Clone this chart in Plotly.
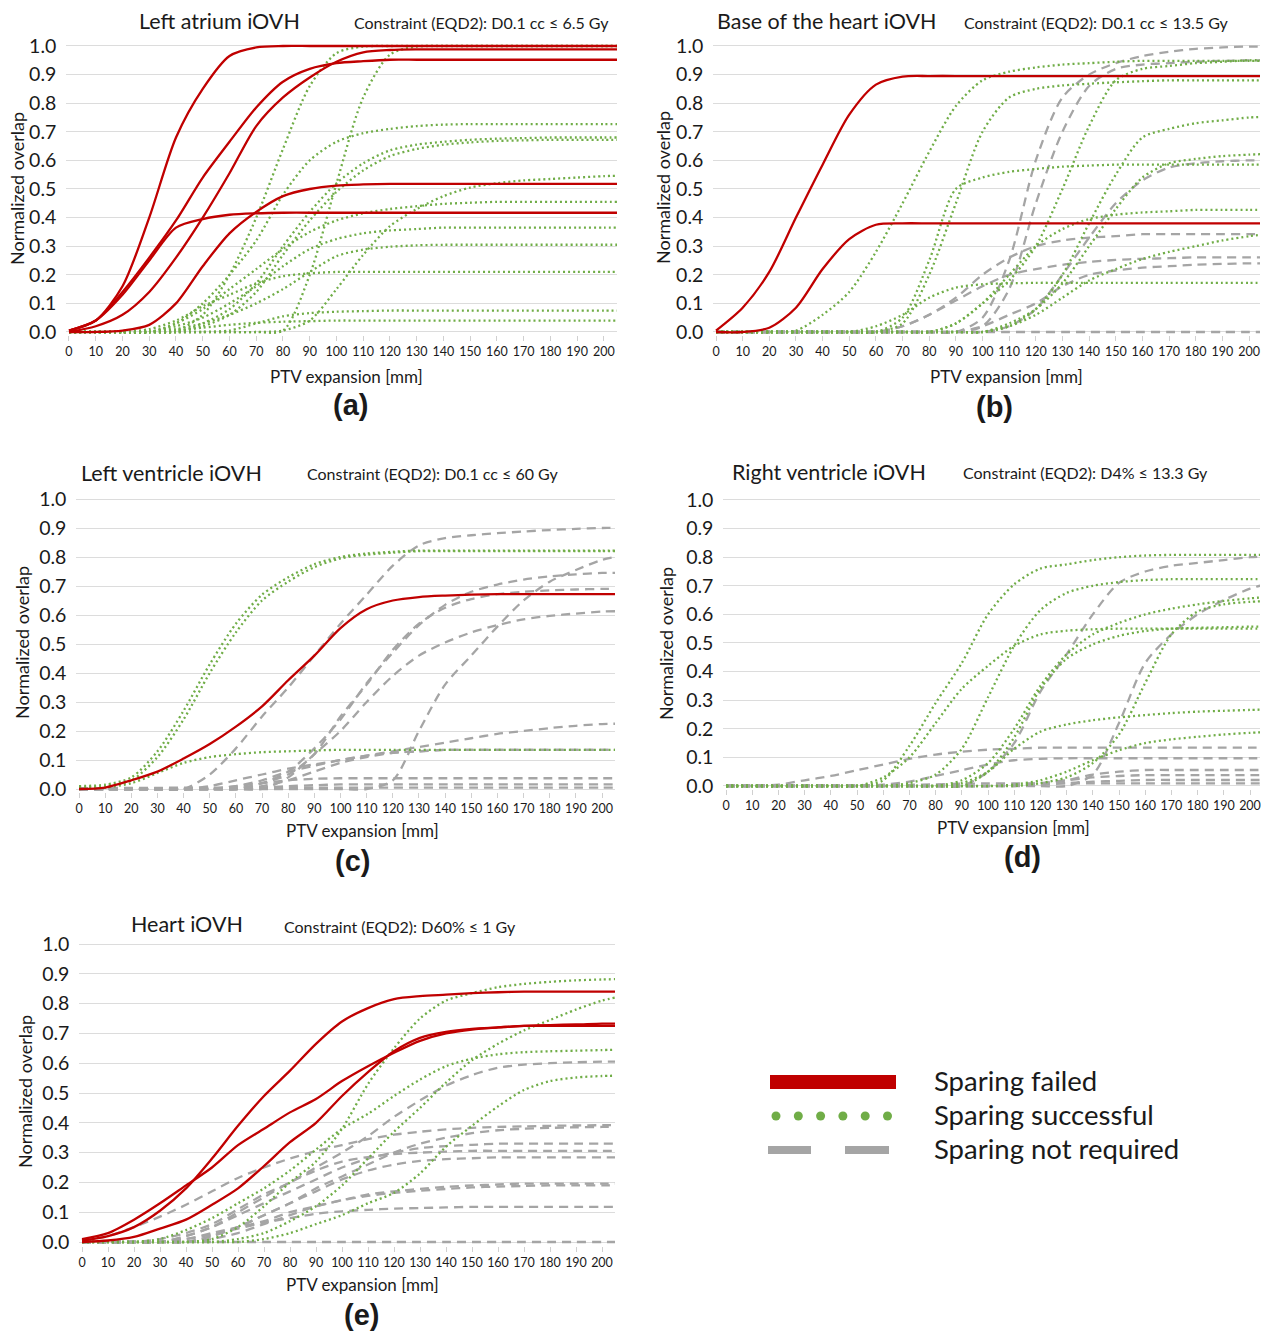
import plotly.graph_objects as go

W, H = 1261, 1332
FONT = "Lato, 'Open Sans', sans-serif"
RED, GREEN, GRAY = "#C00000", "#70AD47", "#A5A5A5"
TXT = "#1a1a1a"

# x sampling (mm) shared by every curve
X = [0, 10, 20, 30, 40, 50, 60, 70, 80, 90, 100, 110, 120, 130, 140, 150, 160, 170, 180, 190, 200, 205]
X_TICKS = list(range(0, 201, 10))
Y_TICKS = [0.0, 0.1, 0.2, 0.3, 0.4, 0.5, 0.6, 0.7, 0.8, 0.9, 1.0]

# ---------------- (a) Left atrium ----------------
a_red1 = [0.005,0.04,0.16,0.40,0.68,0.85,0.965,0.995,1.0,1.0,1.0,1.0,1.0,1.0,1.0,1.0,1.0,1.0,1.0,1.0,1.0,1.0]
a_red2 = [0.005,0.04,0.14,0.26,0.39,0.54,0.665,0.785,0.875,0.92,0.94,0.947,0.952,0.952,0.952,0.952,0.952,0.952,0.952,0.952,0.952,0.952]
a_red3 = [0.0,0.02,0.06,0.14,0.26,0.40,0.555,0.72,0.82,0.89,0.945,0.978,0.986,0.988,0.988,0.988,0.988,0.988,0.988,0.988,0.988,0.988]
a_red4 = [0.005,0.04,0.13,0.25,0.365,0.395,0.41,0.415,0.417,0.417,0.417,0.417,0.417,0.417,0.417,0.417,0.417,0.417,0.417,0.417,0.417,0.417]
a_red5 = [0.0,0.0,0.005,0.025,0.10,0.23,0.345,0.42,0.475,0.50,0.512,0.516,0.518,0.518,0.518,0.518,0.518,0.518,0.518,0.518,0.518,0.518]
a_grn1 = [0,0,0,0,0.005,0.06,0.2,0.4,0.64,0.86,0.975,0.998,1.0,1.0,1.0,1.0,1.0,1.0,1.0,1.0,1.0,1.0]
a_grn2 = [0,0,0,0,0,0,0,0,0.005,0.2,0.52,0.82,0.97,0.998,1.0,1.0,1.0,1.0,1.0,1.0,1.0,1.0]
a_grn3 = [0,0,0,0,0.03,0.1,0.2,0.32,0.48,0.6,0.665,0.695,0.71,0.72,0.725,0.727,0.727,0.727,0.727,0.727,0.727,0.727]
a_grn4 = [0,0,0,0,0,0.03,0.08,0.17,0.3,0.42,0.52,0.59,0.635,0.655,0.665,0.672,0.676,0.678,0.68,0.68,0.68,0.68]
a_grn5 = [0,0,0,0,0,0.02,0.06,0.14,0.27,0.39,0.49,0.565,0.615,0.64,0.655,0.663,0.668,0.67,0.672,0.672,0.672,0.672]
a_grn6 = [0,0,0,0,0,0,0,0,0.005,0.04,0.15,0.27,0.37,0.43,0.475,0.505,0.52,0.53,0.535,0.54,0.545,0.546]
a_grn7 = [0,0,0,0,0.03,0.08,0.15,0.22,0.29,0.35,0.39,0.415,0.43,0.44,0.448,0.452,0.455,0.455,0.455,0.455,0.455,0.455]
a_grn8 = [0,0,0,0,0.02,0.05,0.1,0.16,0.23,0.29,0.325,0.345,0.355,0.36,0.365,0.365,0.365,0.365,0.365,0.365,0.365,0.365]
a_grn9 = [0,0,0,0,0.01,0.03,0.06,0.1,0.15,0.21,0.265,0.288,0.298,0.303,0.305,0.305,0.305,0.305,0.305,0.305,0.305,0.305]
a_grn10 = [0,0,0,0.01,0.04,0.09,0.13,0.17,0.195,0.205,0.21,0.21,0.21,0.21,0.21,0.21,0.21,0.21,0.21,0.21,0.21,0.21]
a_grn11 = [0,0,0,0,0,0,0.005,0.03,0.055,0.066,0.071,0.073,0.075,0.075,0.075,0.075,0.075,0.075,0.075,0.075,0.075,0.075]
a_grn12 = [0,0,0,0,0.005,0.015,0.025,0.032,0.036,0.038,0.04,0.04,0.04,0.04,0.04,0.04,0.04,0.04,0.04,0.04,0.04,0.04]

# ---------------- (b) Base of the heart ----------------
b_red1 = [0.005,0.085,0.21,0.40,0.585,0.76,0.865,0.893,0.895,0.895,0.895,0.895,0.895,0.895,0.895,0.895,0.895,0.895,0.895,0.895,0.895,0.895]
b_red2 = [0.0,0.0,0.015,0.085,0.22,0.325,0.375,0.38,0.38,0.38,0.38,0.38,0.38,0.38,0.38,0.38,0.38,0.38,0.38,0.38,0.38,0.38]
b_grn1 = [0,0,0,0.005,0.06,0.14,0.28,0.45,0.63,0.79,0.88,0.91,0.925,0.935,0.94,0.945,0.948,0.948,0.948,0.948,0.948,0.948]
b_grn2 = [0,0,0,0,0,0,0,0.03,0.2,0.45,0.7,0.82,0.85,0.862,0.868,0.873,0.877,0.88,0.88,0.88,0.88,0.88]
b_grn3 = [0,0,0,0,0,0,0,0.05,0.25,0.5,0.54,0.56,0.57,0.578,0.582,0.585,0.585,0.585,0.585,0.585,0.585,0.585]
b_grn4 = [0,0,0,0,0,0,0,0,0,0.03,0.1,0.18,0.3,0.5,0.72,0.88,0.92,0.93,0.94,0.945,0.95,0.95]
b_grn5 = [0,0,0,0,0,0,0,0,0,0,0,0.02,0.08,0.2,0.38,0.55,0.68,0.71,0.73,0.74,0.75,0.752]
b_grn6 = [0,0,0,0,0,0,0,0,0,0,0,0.03,0.08,0.17,0.3,0.43,0.54,0.59,0.605,0.615,0.62,0.622]
b_grn7 = [0,0,0,0,0,0,0,0,0,0.03,0.1,0.2,0.3,0.36,0.395,0.41,0.418,0.422,0.427,0.427,0.427,0.427]
b_grn8 = [0,0,0,0,0,0,0,0,0,0,0,0.02,0.06,0.12,0.18,0.22,0.255,0.28,0.3,0.32,0.335,0.34]
b_grn9 = [0,0,0,0,0,0,0.02,0.06,0.12,0.155,0.167,0.17,0.172,0.172,0.172,0.172,0.172,0.172,0.172,0.172,0.172,0.172]
b_gry1 = [0,0,0,0,0,0,0,0,0,0,0.05,0.25,0.6,0.82,0.9,0.94,0.965,0.98,0.99,0.995,0.998,0.998]
b_gry2 = [0,0,0,0,0,0,0,0,0,0,0.02,0.15,0.45,0.7,0.86,0.92,0.935,0.94,0.945,0.948,0.95,0.95]
b_gry3 = [0,0,0,0,0,0,0,0,0,0,0,0.02,0.08,0.2,0.33,0.45,0.53,0.575,0.59,0.597,0.6,0.6]
b_gry4 = [0,0,0,0,0,0,0,0.02,0.06,0.12,0.2,0.26,0.3,0.32,0.33,0.335,0.342,0.342,0.342,0.342,0.342,0.342]
b_gry5 = [0,0,0,0,0,0,0,0.02,0.06,0.11,0.16,0.2,0.22,0.235,0.245,0.252,0.256,0.258,0.261,0.261,0.261,0.261]
b_gry6 = [0,0,0,0,0,0,0,0,0,0,0.02,0.06,0.1,0.16,0.2,0.215,0.225,0.23,0.235,0.238,0.24,0.24]
b_gry7 = [0,0,0,0,0,0,0,0,0,0,0,0,0,0,0,0,0,0,0,0,0,0]

# ---------------- (c) Left ventricle ----------------
c_red1 = [0.0,0.005,0.03,0.06,0.105,0.155,0.215,0.285,0.375,0.46,0.555,0.62,0.65,0.662,0.667,0.67,0.672,0.672,0.672,0.672,0.672,0.672]
c_grn1 = [0.01,0.015,0.04,0.13,0.27,0.43,0.57,0.67,0.73,0.775,0.8,0.812,0.818,0.822,0.822,0.822,0.822,0.822,0.822,0.822,0.822,0.822]
c_grn2 = [0.005,0.01,0.03,0.11,0.24,0.4,0.54,0.65,0.715,0.765,0.795,0.808,0.815,0.82,0.82,0.82,0.82,0.82,0.82,0.82,0.82,0.82]
c_grn3 = [0.0,0.005,0.02,0.055,0.09,0.11,0.12,0.127,0.13,0.133,0.135,0.135,0.135,0.135,0.135,0.135,0.135,0.135,0.135,0.135,0.135,0.135]
c_gry1 = [0,0,0,0,0,0.05,0.14,0.25,0.35,0.46,0.57,0.67,0.77,0.84,0.865,0.875,0.882,0.888,0.893,0.897,0.9,0.9]
c_gry2 = [0,0,0,0,0,0,0,0,0,0,0,0,0.03,0.2,0.36,0.46,0.56,0.65,0.715,0.755,0.79,0.8]
c_gry3 = [0,0,0,0,0,0,0,0.02,0.06,0.14,0.24,0.365,0.47,0.565,0.635,0.68,0.705,0.722,0.733,0.74,0.745,0.745]
c_gry4 = [0,0,0,0,0,0,0,0.02,0.05,0.12,0.25,0.36,0.48,0.57,0.625,0.655,0.672,0.68,0.685,0.688,0.69,0.69]
c_gry5 = [0,0,0,0,0,0,0,0,0.04,0.12,0.2,0.3,0.39,0.46,0.505,0.54,0.565,0.585,0.597,0.605,0.612,0.613]
c_gry6 = [0,0,0,0,0,0.01,0.03,0.05,0.07,0.085,0.1,0.115,0.13,0.145,0.16,0.175,0.19,0.2,0.21,0.218,0.224,0.225]
c_gry7 = [0,0,0,0,0,0,0.01,0.03,0.06,0.08,0.1,0.115,0.125,0.13,0.135,0.135,0.135,0.135,0.135,0.135,0.135,0.135]
c_gry8 = [0,0,0,0,0,0,0,0.01,0.03,0.06,0.09,0.11,0.125,0.13,0.135,0.135,0.135,0.135,0.135,0.135,0.135,0.135]
c_gry9 = [0,0,0,0,0,0,0.01,0.02,0.03,0.035,0.037,0.037,0.037,0.037,0.037,0.037,0.037,0.037,0.037,0.037,0.037,0.037]
c_gry10 = [0,0,0,0,0,0,0,0.005,0.01,0.013,0.016,0.016,0.016,0.016,0.016,0.016,0.016,0.016,0.016,0.016,0.016,0.016]
c_gry11 = [0.003,0.003,0.004,0.004,0.005,0.005,0.005,0.005,0.005,0.005,0.005,0.005,0.005,0.005,0.005,0.005,0.005,0.005,0.005,0.005,0.005,0.005]

# ---------------- (d) Right ventricle ----------------
d_grn1 = [0,0,0,0,0,0,0.02,0.14,0.29,0.43,0.6,0.705,0.76,0.775,0.79,0.8,0.806,0.808,0.808,0.808,0.808,0.808]
d_grn2 = [0,0,0,0,0,0,0,0.01,0.04,0.13,0.31,0.49,0.615,0.675,0.7,0.713,0.72,0.723,0.723,0.723,0.723,0.723]
d_grn3 = [0,0,0,0,0,0,0.03,0.1,0.22,0.34,0.42,0.49,0.53,0.543,0.548,0.55,0.55,0.55,0.55,0.55,0.55,0.55]
d_grn4 = [0,0,0,0,0,0,0,0,0,0,0.05,0.17,0.34,0.445,0.495,0.525,0.542,0.55,0.553,0.555,0.557,0.557]
d_grn5 = [0,0,0,0,0,0,0,0,0,0.02,0.08,0.2,0.35,0.46,0.53,0.57,0.6,0.62,0.635,0.647,0.656,0.66]
d_grn6 = [0,0,0,0,0,0,0,0,0,0,0,0,0.01,0.03,0.08,0.18,0.36,0.53,0.61,0.635,0.644,0.646]
d_grn7 = [0,0,0,0,0,0,0,0,0,0.01,0.05,0.13,0.19,0.215,0.23,0.24,0.248,0.255,0.26,0.263,0.266,0.267]
d_grn8 = [0,0,0,0,0,0,0,0,0,0,0,0.005,0.02,0.05,0.09,0.125,0.15,0.163,0.172,0.18,0.186,0.188]
d_gry1 = [0,0,0,0,0,0,0,0,0,0,0.05,0.15,0.33,0.46,0.6,0.71,0.75,0.77,0.78,0.79,0.8,0.802]
d_gry2 = [0,0,0,0,0,0,0,0,0,0,0,0,0,0,0.04,0.22,0.43,0.53,0.6,0.65,0.69,0.703]
d_gry3 = [0,0,0.005,0.02,0.035,0.055,0.075,0.095,0.11,0.12,0.127,0.13,0.134,0.134,0.134,0.134,0.134,0.134,0.134,0.134,0.134,0.134]
d_gry4 = [0,0,0,0,0,0,0.005,0.015,0.035,0.055,0.075,0.09,0.095,0.097,0.097,0.097,0.097,0.097,0.097,0.097,0.097,0.097]
d_gry5 = [0,0,0,0,0,0,0,0,0,0,0,0,0.005,0.02,0.04,0.05,0.056,0.056,0.056,0.056,0.056,0.056]
d_gry6 = [0,0,0,0,0,0,0,0,0,0,0,0.003,0.01,0.02,0.03,0.035,0.038,0.038,0.038,0.038,0.038,0.038]
d_gry7 = [0,0,0,0,0,0,0,0,0,0,0,0.002,0.005,0.01,0.015,0.018,0.021,0.021,0.021,0.021,0.021,0.021]
d_gry8 = [0.002,0.002,0.002,0.002,0.002,0.002,0.002,0.004,0.006,0.008,0.009,0.009,0.009,0.009,0.009,0.009,0.009,0.009,0.009,0.009,0.009,0.009]

# ---------------- (e) Heart ----------------
e_red1 = [0.005,0.02,0.05,0.105,0.18,0.28,0.39,0.49,0.575,0.665,0.74,0.785,0.815,0.825,0.83,0.835,0.838,0.84,0.84,0.84,0.84,0.84]
e_red2 = [0.01,0.03,0.075,0.13,0.19,0.25,0.325,0.38,0.435,0.48,0.54,0.59,0.635,0.675,0.7,0.713,0.72,0.725,0.728,0.73,0.733,0.733]
e_red3 = [0.0,0.005,0.017,0.045,0.075,0.125,0.18,0.255,0.335,0.4,0.49,0.57,0.64,0.685,0.705,0.715,0.72,0.725,0.725,0.725,0.725,0.725]
e_grn1 = [0,0,0,0,0,0.01,0.05,0.12,0.2,0.27,0.38,0.53,0.65,0.75,0.81,0.835,0.855,0.866,0.873,0.878,0.881,0.882]
e_grn2 = [0,0,0,0,0,0,0.01,0.03,0.07,0.12,0.19,0.28,0.37,0.45,0.535,0.61,0.665,0.71,0.745,0.78,0.81,0.82]
e_grn3 = [0,0,0,0.01,0.04,0.08,0.13,0.18,0.24,0.31,0.38,0.43,0.49,0.545,0.59,0.615,0.63,0.637,0.64,0.642,0.644,0.645]
e_grn4 = [0,0,0,0,0,0,0,0.01,0.03,0.06,0.09,0.13,0.165,0.23,0.32,0.39,0.455,0.51,0.54,0.552,0.557,0.558]
e_gry1 = [0,0,0,0.01,0.03,0.06,0.11,0.16,0.2,0.25,0.3,0.355,0.42,0.475,0.525,0.56,0.585,0.595,0.6,0.603,0.605,0.605]
e_gry2 = [0.005,0.02,0.05,0.085,0.125,0.17,0.215,0.25,0.28,0.305,0.325,0.345,0.36,0.37,0.378,0.383,0.386,0.388,0.39,0.391,0.392,0.392]
e_gry3 = [0,0,0,0,0,0.02,0.05,0.09,0.13,0.18,0.22,0.26,0.3,0.33,0.35,0.365,0.375,0.38,0.383,0.385,0.386,0.386]
e_gry4 = [0,0,0,0,0.02,0.05,0.09,0.13,0.17,0.21,0.25,0.28,0.3,0.315,0.322,0.326,0.33,0.33,0.33,0.33,0.33,0.33]
e_gry5 = [0,0,0,0,0.02,0.05,0.1,0.15,0.2,0.24,0.27,0.285,0.295,0.3,0.303,0.306,0.306,0.306,0.306,0.306,0.306,0.306]
e_gry6 = [0,0,0,0,0,0.02,0.05,0.09,0.13,0.17,0.21,0.24,0.26,0.272,0.278,0.281,0.284,0.284,0.284,0.284,0.284,0.284]
e_gry7 = [0,0,0,0,0,0.01,0.03,0.06,0.09,0.12,0.14,0.16,0.17,0.178,0.185,0.19,0.193,0.196,0.196,0.196,0.196,0.196]
e_gry8 = [0,0,0,0,0.01,0.03,0.05,0.07,0.1,0.12,0.14,0.155,0.165,0.172,0.178,0.183,0.186,0.188,0.19,0.19,0.19,0.19]
e_gry9 = [0,0,0,0,0.01,0.025,0.045,0.065,0.08,0.095,0.103,0.108,0.112,0.114,0.116,0.118,0.118,0.118,0.118,0.118,0.118,0.118]
e_gry10 = [0,0,0,0,0,0,0,0,0,0,0,0,0,0,0,0,0,0,0,0,0,0]

TITLES = ["Left atrium iOVH", "Base of the heart iOVH", "Left ventricle iOVH", "Right ventricle iOVH", "Heart iOVH"]
CONSTRAINTS = ["Constraint (EQD2): D0.1 cc ≤ 6.5 Gy", "Constraint (EQD2): D0.1 cc ≤ 13.5 Gy",
               "Constraint (EQD2): D0.1 cc ≤ 60 Gy", "Constraint (EQD2): D4% ≤ 13.3 Gy",
               "Constraint (EQD2): D60% ≤ 1 Gy"]
LETTERS = ["(a)", "(b)", "(c)", "(d)", "(e)"]
LEGEND_LABELS = ["Sparing failed", "Sparing successful", "Sparing not required"]

RED_SETS = [[a_red1, a_red2, a_red3, a_red4, a_red5], [b_red1, b_red2], [c_red1], [], [e_red1, e_red2, e_red3]]
GREEN_SETS = [[a_grn1, a_grn2, a_grn3, a_grn4, a_grn5, a_grn6, a_grn7, a_grn8, a_grn9, a_grn10, a_grn11, a_grn12],
              [b_grn1, b_grn2, b_grn3, b_grn4, b_grn5, b_grn6, b_grn7, b_grn8, b_grn9],
              [c_grn1, c_grn2, c_grn3],
              [d_grn1, d_grn2, d_grn3, d_grn4, d_grn5, d_grn6, d_grn7, d_grn8],
              [e_grn1, e_grn2, e_grn3, e_grn4]]
GRAY_SETS = [[],
             [b_gry1, b_gry2, b_gry3, b_gry4, b_gry5, b_gry6, b_gry7],
             [c_gry1, c_gry2, c_gry3, c_gry4, c_gry5, c_gry6, c_gry7, c_gry8, c_gry9, c_gry10, c_gry11],
             [d_gry1, d_gry2, d_gry3, d_gry4, d_gry5, d_gry6, d_gry7, d_gry8],
             [e_gry1, e_gry2, e_gry3, e_gry4, e_gry5, e_gry6, e_gry7, e_gry8, e_gry9, e_gry10]]

# ---------------- layout geometry (pixels) ----------------
# x0: pixel of 0 mm, ppm: pixels per mm, xr: right edge, y1: pixel of 1.0, y0: pixel of 0.0
GEOM = [
    dict(x0=69, ppm=2.675, xr=617, y1=46, y0=332),
    dict(x0=716, ppm=2.665, xr=1260, y1=46, y0=332),
    dict(x0=79, ppm=2.615, xr=615, y1=499, y0=789),
    dict(x0=726, ppm=2.62, xr=1260, y1=500, y0=786),
    dict(x0=82, ppm=2.6, xr=615, y1=944, y0=1242),
]
TEXTPOS = [
    dict(title=(219, 21), cons=(352, 22), ytitle=(17, 189), xtitle=(346, 376), letter=(350, 405)),
    dict(title=(827, 21), cons=(962, 22), ytitle=(663, 188), xtitle=(1006, 376), letter=(994, 407)),
    dict(title=(172, 473), cons=(305, 474), ytitle=(22, 643), xtitle=(362, 830), letter=(352, 861)),
    dict(title=(829, 472), cons=(961, 473), ytitle=(666, 644), xtitle=(1013, 827), letter=(1022, 857)),
    dict(title=(187, 924), cons=(282, 926), ytitle=(25, 1092), xtitle=(362, 1284), letter=(361, 1315)),
]
PAD = 0.012


def px(x):
    return x / W


def py(y):
    return 1 - y / H


fig = go.Figure()
annotations = []
shapes = []

for i in range(5):
    g = GEOM[i]
    sfx = "" if i == 0 else str(i + 1)
    xref, yref = "x" + sfx, "y" + sfx
    ppu = g["y0"] - g["y1"]
    xmax = (g["xr"] - g["x0"]) / g["ppm"]
    fig.update_layout(**{
        "xaxis" + sfx: dict(
            domain=[px(g["x0"] - g["ppm"]), px(g["xr"])], range=[-1, xmax], anchor=yref,
            tickvals=X_TICKS, ticks="outside", ticklen=5, tickcolor="#D0D0D0", tickwidth=1,
            showgrid=False, showline=False, zeroline=False, automargin=False,
            tickfont=dict(family=FONT, size=12.5, color=TXT), fixedrange=True),
        "yaxis" + sfx: dict(
            domain=[py(g["y0"] + PAD * ppu), py(g["y1"] - PAD * ppu)], range=[-PAD, 1 + PAD], anchor=xref,
            tickvals=Y_TICKS, tickformat=".1f", showgrid=True, gridcolor="#DCDCDC", gridwidth=1,
            showline=False, zeroline=False, ticks="", ticklabelstandoff=9, automargin=False,
            tickfont=dict(family=FONT, size=19.5, color=TXT), fixedrange=True),
    })
    for ys in GRAY_SETS[i]:
        fig.add_trace(go.Scatter(x=X, y=ys, mode="lines", xaxis=xref, yaxis=yref, showlegend=False,
                                 line=dict(color=GRAY, width=2.3, dash="9px,6px", shape="spline", smoothing=0.8),
                                 hoverinfo="skip"))
    for ys in GREEN_SETS[i]:
        fig.add_trace(go.Scatter(x=X, y=ys, mode="lines", xaxis=xref, yaxis=yref, showlegend=False,
                                 line=dict(color=GREEN, width=2.3, dash="2px,3px", shape="spline", smoothing=0.8),
                                 hoverinfo="skip"))
    for ys in RED_SETS[i]:
        fig.add_trace(go.Scatter(x=X, y=ys, mode="lines", xaxis=xref, yaxis=yref, showlegend=False,
                                 line=dict(color=RED, width=2.3, shape="spline", smoothing=0.8),
                                 hoverinfo="skip"))

    t = TEXTPOS[i]
    annotations += [
        dict(text=TITLES[i], x=px(t["title"][0]), y=py(t["title"][1]), xanchor="center", yanchor="middle",
             showarrow=False, xref="paper", yref="paper", font=dict(family=FONT, size=21.5, color=TXT)),
        dict(text=CONSTRAINTS[i], x=px(t["cons"][0]), y=py(t["cons"][1]), xanchor="left", yanchor="middle",
             showarrow=False, xref="paper", yref="paper", font=dict(family=FONT, size=16, color=TXT)),
        dict(text="Normalized overlap", x=px(t["ytitle"][0]), y=py(t["ytitle"][1]), xanchor="center",
             yanchor="middle", textangle=-90, showarrow=False, xref="paper", yref="paper",
             font=dict(family=FONT, size=18, color=TXT)),
        dict(text="PTV expansion [mm]", x=px(t["xtitle"][0]), y=py(t["xtitle"][1]), xanchor="center",
             yanchor="middle", showarrow=False, xref="paper", yref="paper",
             font=dict(family=FONT, size=17, color=TXT)),
        dict(text="<b>" + LETTERS[i] + "</b>", x=px(t["letter"][0]), y=py(t["letter"][1]), xanchor="center",
             yanchor="middle", showarrow=False, xref="paper", yref="paper",
             font=dict(family="Liberation Sans, Arial, sans-serif", size=29, color=TXT)),
    ]

# ---------------- legend (drawn in paper space) ----------------
LEG_Y = [1082, 1116, 1150]
shapes.append(dict(type="rect", xref="paper", yref="paper", x0=px(770), x1=px(896), y0=py(1089), y1=py(1075),
                   fillcolor=RED, line=dict(width=0)))
for k in range(6):
    cx = 776 + k * 22.3
    shapes.append(dict(type="circle", xref="paper", yref="paper", x0=px(cx - 4.5), x1=px(cx + 4.5),
                       y0=py(LEG_Y[1] + 4.5), y1=py(LEG_Y[1] - 4.5), fillcolor=GREEN, line=dict(width=0)))
for (a, b) in [(768, 811), (845, 889)]:
    shapes.append(dict(type="line", xref="paper", yref="paper", x0=px(a), x1=px(b), y0=py(LEG_Y[2]),
                       y1=py(LEG_Y[2]), line=dict(color=GRAY, width=8)))
for lab, yy in zip(LEGEND_LABELS, LEG_Y):
    annotations.append(dict(text=lab, x=px(932), y=py(yy - 2), xanchor="left", yanchor="middle",
                            showarrow=False, xref="paper", yref="paper",
                            font=dict(family=FONT, size=27.5, color=TXT)))

fig.update_layout(width=W, height=H, margin=dict(l=0, r=0, t=0, b=0, autoexpand=False), paper_bgcolor="white",
                  plot_bgcolor="white", annotations=annotations, shapes=shapes, showlegend=False)

fig.write_html("out.html", config={"displayModeBar": False, "staticPlot": False},
               post_script="document.body.style.margin='0px';document.body.style.padding='0px';")
